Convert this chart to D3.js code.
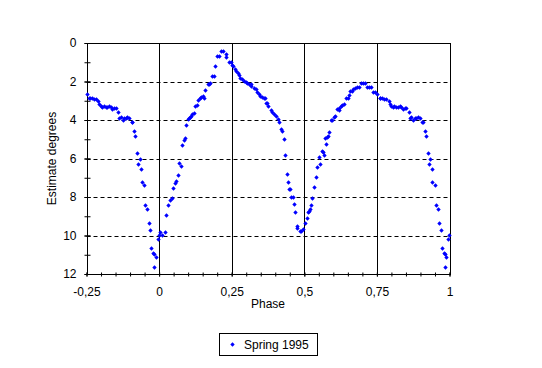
<!DOCTYPE html>
<html>
<head>
<meta charset="utf-8">
<script src="https://cdn.jsdelivr.net/npm/d3@7"></script>
<style>
  html, body { margin: 0; padding: 0; background: #fff; }
  svg { display: block; }
  text { font-family: Arial, "Liberation Sans", sans-serif; font-size: 12px; fill: #000; }
</style>
</head>
<body>
<svg id="chart" width="542" height="368"></svg>
<script>
// ---- data (observations phased 0..1; the 0.75..1 part is repeated at -0.25..0 like the original) ----
const seriesName = "Spring 1995";
const phase = [
  0.003,0.011,0.020,0.024,0.032,0.038,0.043,0.048,0.055,0.057,0.064,0.067,0.075,0.078,0.086,0.089,
  0.093,0.099,0.103,0.106,0.110,0.114,0.120,0.123,0.129,0.135,0.141,0.146,0.152,0.154,0.159,0.167,
  0.173,0.176,0.183,0.189,0.194,0.200,0.206,0.213,0.221,0.229,0.232,0.240,0.247,
  0.251,0.254,0.260,0.266,0.272,0.275,0.280,0.286,0.292,0.298,0.304,0.310,0.315,0.318,0.326,0.332,
  0.337,0.343,0.349,0.354,0.360,0.366,0.367,0.372,0.375,0.386,0.390,0.396,0.404,0.409,0.413,0.419,
  0.423,0.429,0.434,0.439,0.443,0.447,0.451,0.455,0.460,0.464,0.468,0.474,0.476,0.484,0.490,0.497,
  0.504,0.509,0.512,0.517,0.519,0.523,0.528,0.533,0.540,0.544,0.551,0.554,0.560,0.563,0.569,0.573,
  0.575,0.579,0.582,0.585,0.591,0.596,0.601,0.607,0.612,0.618,0.620,0.625,0.631,0.637,0.643,0.649,
  0.654,0.657,0.663,0.669,0.674,0.680,0.688,0.695,0.703,0.709,0.715,0.723,0.730,0.736,0.744,
  0.752,0.759,0.762,0.768,0.776,0.782,0.791,0.794,0.800,0.804,0.810,0.816,0.821,0.828,0.834,0.839,
  0.846,0.851,0.859,0.863,0.868,0.874,0.880,0.885,0.891,0.897,0.905,0.908,0.914,0.918,0.925,0.928,
  0.934,0.939,0.941,0.949,0.952,0.959,0.965,0.970,0.973,0.980,0.983,0.983,0.988,0.995,0.999
];
const estimate = [
  9.80,9.97,9.80,8.95,8.43,8.17,8.04,7.55,7.27,7.17,6.87,6.25,6.40,5.31,5.02,4.95,
  4.28,3.96,3.88,3.86,3.78,3.69,3.62,3.29,3.24,2.98,2.87,2.81,2.74,2.84,2.46,2.15,
  2.15,2.06,1.73,1.73,1.18,0.69,0.66,0.40,0.40,0.55,0.74,1.00,1.00,
  1.14,1.20,1.35,1.47,1.56,1.65,1.83,1.89,1.96,2.03,2.06,2.11,2.15,2.23,2.35,2.41,
  2.56,2.66,2.74,2.81,2.87,2.87,3.12,3.12,3.29,3.48,3.60,3.67,3.79,3.95,4.09,4.48,
  4.59,5.00,5.83,6.82,7.22,7.60,7.60,7.98,8.02,8.35,8.80,9.59,9.50,9.77,9.77,9.68,
  9.37,9.07,8.80,8.73,8.62,8.43,8.07,7.50,6.98,6.46,5.94,6.30,5.59,5.65,5.83,4.92,
  5.26,4.87,4.81,4.64,4.02,4.02,3.86,3.79,3.44,3.50,3.38,3.29,3.22,3.19,2.87,2.84,
  2.72,2.49,2.49,2.39,2.34,2.30,2.30,2.09,2.09,2.09,2.30,2.27,2.27,2.53,2.53,
  2.66,2.87,2.87,2.87,2.93,2.93,3.00,3.19,3.27,3.31,3.26,3.31,3.31,3.27,3.34,3.43,
  3.38,3.38,3.60,3.91,3.86,4.00,3.91,3.88,3.83,3.91,4.09,4.09,4.59,4.85,5.73,6.30,
  6.00,6.56,7.22,7.39,8.42,8.64,9.37,9.70,10.67,10.93,10.98,11.65,11.13,10.18,9.97
];
const xDomain = [-0.25, 1];
const yDomain = [0, 12];
const xMajorTicks = [-0.25, 0, 0.25, 0.5, 0.75, 1];
const xTickLabels = ["-0,25", "0", "0,25", "0,5", "0,75", "1"];
const yMajorTicks = [0, 2, 4, 6, 8, 10, 12];
const yTickLabels = ["0", "2", "4", "6", "8", "10", "12"];
const xVerticalLines = [0, 0.25, 0.5, 0.75];
const yDashedLines = [2, 4, 6, 8, 10];
const xTitle = "Phase";
const yTitle = "Estimate degrees";

// build point list (repeat of the last quarter at phase-1)
const points = phase.map((p, i) => ({ p: p, v: estimate[i] }));
const wrapped = points.filter(d => d.p >= 0.75).map(d => ({ p: d.p - 1, v: d.v }));
const allPoints = wrapped.concat(points);

// ---- layout ----
const svg = d3.select("#chart");
const L = 86.5, R = 449.5, T = 43, B = 274;
const x = d3.scaleLinear().domain(xDomain).range([L, R]);
const y = d3.scaleLinear().domain(yDomain).range([T, B]);
const FONT = "Arial, 'Liberation Sans', sans-serif";

// horizontal dashed gridlines
svg.append("g").selectAll("line").data(yDashedLines).join("line")
  .attr("x1", L).attr("x2", R)
  .attr("y1", d => Math.round(y(d)) + 0.5).attr("y2", d => Math.round(y(d)) + 0.5)
  .attr("stroke", "#000").attr("stroke-width", 1).attr("stroke-dasharray", "4,3");

// vertical solid gridlines
svg.append("g").selectAll("line").data(xVerticalLines).join("line")
  .attr("x1", d => Math.round(x(d)) + 0.5).attr("x2", d => Math.round(x(d)) + 0.5)
  .attr("y1", T).attr("y2", B)
  .attr("stroke", "#000").attr("stroke-width", 1);

// plot border
svg.append("rect")
  .attr("x", Math.round(L) + 0.5).attr("y", T + 0.5)
  .attr("width", Math.round(R) - Math.round(L)).attr("height", B - T)
  .attr("fill", "none").attr("stroke", "#000");

// ---- axes ----
function styleAxis(g, crossAttr, size) {
  g.select(".domain").remove();
  g.selectAll(".tick line").attr("stroke", "#000").attr(crossAttr, size);
}
// y minor ticks
const yMinor = d3.range(yDomain[0], yDomain[1] + 1, 1);
svg.append("g").attr("transform", `translate(${Math.round(L) + 0.5},0)`)
  .call(d3.axisLeft(y).tickValues(yMinor).tickSize(3).tickFormat(""))
  .call(g => styleAxis(g, "x1", 3));
// y major ticks & labels
svg.append("g").attr("transform", `translate(${Math.round(L) + 0.5},0)`)
  .call(d3.axisLeft(y).tickValues(yMajorTicks).tickSize(3).tickPadding(8)
    .tickFormat((d, i) => yTickLabels[i]))
  .call(g => styleAxis(g, "x1", 3))
  .call(g => g.selectAll("text").attr("font-size", 12).attr("font-family", FONT));

// x minor ticks
const xMinor = d3.range(0, 26).map(i => -0.25 + i * 0.05);
svg.append("g").attr("transform", `translate(0,${B + 0.5})`)
  .call(d3.axisBottom(x).tickValues(xMinor).tickSize(2).tickFormat(""))
  .call(g => styleAxis(g, "y1", -2));
// x major ticks & labels
svg.append("g").attr("transform", `translate(0,${B + 0.5})`)
  .call(d3.axisBottom(x).tickValues(xMajorTicks).tickSize(2).tickPadding(11)
    .tickFormat((d, i) => xTickLabels[i]))
  .call(g => styleAxis(g, "y1", -2))
  .call(g => g.selectAll("text").attr("font-size", 12).attr("font-family", FONT));

// axis titles
svg.append("text").attr("x", (L + R) / 2).attr("y", 308)
  .attr("text-anchor", "middle").text(xTitle);
svg.append("text")
  .attr("transform", `translate(56,${(T + B) / 2}) rotate(-90)`)
  .attr("text-anchor", "middle").text(yTitle);

// ---- points ----
function diamond(cx, cy, r) {
  return `M${cx},${cy - r}L${cx + r},${cy}L${cx},${cy + r}L${cx - r},${cy}Z`;
}
svg.append("g").selectAll("path").data(allPoints).join("path")
  .attr("d", d => diamond(Math.round(x(d.p)) + 0.5, Math.round(y(d.v)) + 0.5, 2.2))
  .attr("fill", "#0000ff");

// ---- legend ----
const lg = svg.append("g");
lg.append("rect").attr("x", 219.5).attr("y", 333.5).attr("width", 98).attr("height", 22)
  .attr("fill", "#fff").attr("stroke", "#000");
lg.append("path").attr("d", diamond(232.5, 344.5, 2.2)).attr("fill", "#0000ff");
lg.append("text").attr("x", 244).attr("y", 349).text(seriesName);
</script>
</body>
</html>
